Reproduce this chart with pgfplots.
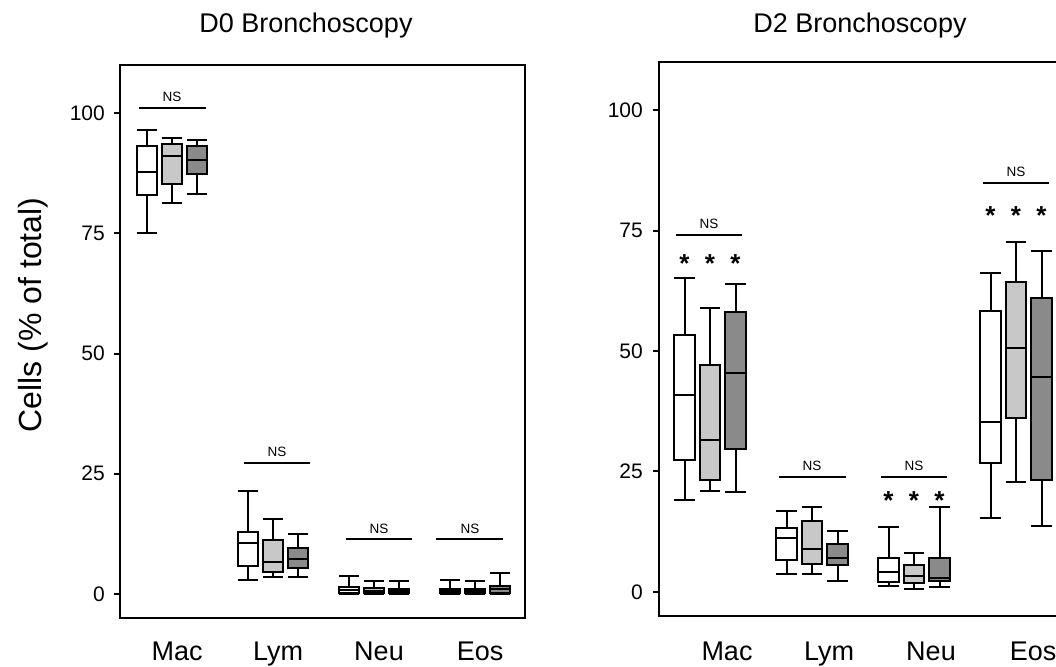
\documentclass[border=0pt]{standalone}
\usepackage{fontspec}
\setmainfont{Liberation Sans}
\usepackage{pgfplots}
\pgfplotsset{compat=1.18}
\usepgfplotslibrary{statistics}

\definecolor{lgray}{RGB}{200,200,200}
\definecolor{dgray}{RGB}{138,138,138}

% draw position, lower whisker, lower quartile, median, upper quartile, upper whisker, fill
\newcommand{\bx}[7]{\addplot[boxplot prepared={draw direction=y, draw position=#1, lower whisker=#2, lower quartile=#3, median=#4, upper quartile=#5, upper whisker=#6, box extend=0.2, whisker extend=0.2,
  every box/.style={draw=black, fill=#7, line width=2pt},
  every whisker/.style={draw=black, line width=2pt},
  every median/.style={draw=black, line width=2pt}}, draw=black, fill=#7, line width=2pt, solid] coordinates {};}
% x from, x to, x mid, y
\newcommand{\ns}[4]{\draw[line width=2pt] (axis cs:#1,#4) -- (axis cs:#2,#4);
  \node[font=\fontsize{13.5}{15}\selectfont, anchor=base, yshift=6pt, inner sep=0pt] at (axis cs:#3,#4) {NS};}
\newcommand{\st}[2]{\node[font=\bfseries\fontsize{26}{30}\selectfont, anchor=north, inner sep=0pt] at (axis cs:#1,#2) {*};}

\pgfplotsset{panel/.style={
  scale only axis,
  ymin=-5, ymax=110,
  ytick={0,25,50,75,100},
  xtick={0,1,2,3},
  xticklabels={Mac,Lym,Neu,Eos},
  axis line style={line width=2pt},
  tick align=outside,
  ytick pos=left,
  major tick length=6pt,
  every tick/.style={black, line width=2pt},
  xtick style={draw=none},
  /pgf/number format/assume math mode=true,
  yticklabel style={font=\fontsize{21}{25}\selectfont, inner sep=0pt, anchor=east},
  xticklabel style={font=\fontsize{27}{32}\selectfont, inner sep=0pt, anchor=base},
}}

\begin{document}
\begin{tikzpicture}
\path[use as bounding box] (0pt,0pt) rectangle (1056pt,666pt);
\clip (0pt,0pt) rectangle (1056pt,666pt);

\node[font=\fontsize{32}{38}\selectfont, rotate=90] at (33.5pt,351pt) {Cells (\% of total)};
\node[font=\fontsize{27}{32}\selectfont, anchor=base] at (306pt,633pt) {D0 Bronchoscopy};
\node[font=\fontsize{27}{32}\selectfont, anchor=base] at (860pt,633pt) {D2 Bronchoscopy};

% ---------------- D0 ----------------
\begin{axis}[panel, at={(120pt,48pt)}, anchor=south west, width=405pt, height=553pt,
  xmin=-0.515, xmax=3.495,
  yticklabel style={xshift=-9pt},
  xticklabel style={xshift=5pt, yshift=-36pt}]
\bx{-0.25}{75.0}{83.0}{87.8}{93.1}{96.5}{white}
\bx{0}{81.4}{85.2}{91.0}{93.5}{94.9}{lgray}
\bx{0.25}{83.2}{87.3}{90.3}{93.2}{94.5}{dgray}
\bx{0.75}{2.9}{5.9}{10.6}{12.9}{21.4}{white}
\bx{1}{3.6}{4.5}{6.6}{11.2}{15.6}{lgray}
\bx{1.25}{3.5}{5.5}{7.3}{9.6}{12.5}{dgray}
\bx{1.75}{0}{0.1}{0.8}{1.5}{3.8}{white}
\bx{2}{0}{0.1}{0.7}{1.2}{2.7}{lgray}
\bx{2.25}{0}{0.1}{0.6}{1.1}{2.7}{dgray}
\bx{2.75}{0}{0.1}{0.6}{1.1}{2.9}{white}
\bx{3}{0}{0.1}{0.6}{1.1}{2.7}{lgray}
\bx{3.25}{0}{0.1}{1.0}{1.6}{4.3}{dgray}
\ns{-0.327}{0.336}{0.0}{101.1}
\ns{0.713}{1.366}{1.04}{27.3}
\ns{1.723}{2.376}{2.05}{11.4}
\ns{2.614}{3.277}{2.95}{11.4}
\end{axis}

% ---------------- D2 ----------------
\begin{axis}[panel, at={(659pt,50pt)}, anchor=south west, width=408pt, height=554pt,
  xmin=-0.5, xmax=3.5,
  yticklabel style={xshift=-10pt},
  xticklabel style={xshift=17pt, yshift=-38pt}]
\bx{-0.25}{19.0}{27.4}{40.9}{53.4}{65.1}{white}
\bx{0}{21.0}{23.2}{31.5}{47.0}{58.9}{lgray}
\bx{0.25}{20.7}{29.7}{45.4}{58.2}{63.9}{dgray}
\bx{0.75}{3.7}{6.6}{11.1}{13.2}{16.7}{white}
\bx{1}{3.7}{5.7}{8.9}{14.8}{17.7}{lgray}
\bx{1.25}{2.3}{5.6}{7.0}{9.9}{12.7}{dgray}
\bx{1.75}{1.2}{2.1}{4.1}{7.1}{13.5}{white}
\bx{2}{0.7}{1.9}{3.3}{5.5}{8.0}{lgray}
\bx{2.25}{1.0}{2.3}{2.8}{7.1}{17.7}{dgray}
\bx{2.75}{15.3}{26.8}{35.3}{58.4}{66.3}{white}
\bx{3}{22.8}{36.0}{50.6}{64.3}{72.6}{lgray}
\bx{3.25}{13.6}{23.2}{44.6}{61.0}{70.7}{dgray}
\ns{-0.333}{0.314}{-0.01}{74.1}
\ns{0.676}{1.333}{1.0}{23.9}
\ns{1.676}{2.324}{2.0}{23.9}
\ns{2.676}{3.324}{3.0}{84.9}
\st{-0.25}{70.0}\st{0}{70.0}\st{0.25}{70.0}
\st{1.75}{20.8}\st{2}{20.8}\st{2.25}{20.8}
\st{2.75}{80.0}\st{3}{80.0}\st{3.25}{80.0}
\end{axis}
\end{tikzpicture}
\end{document}
